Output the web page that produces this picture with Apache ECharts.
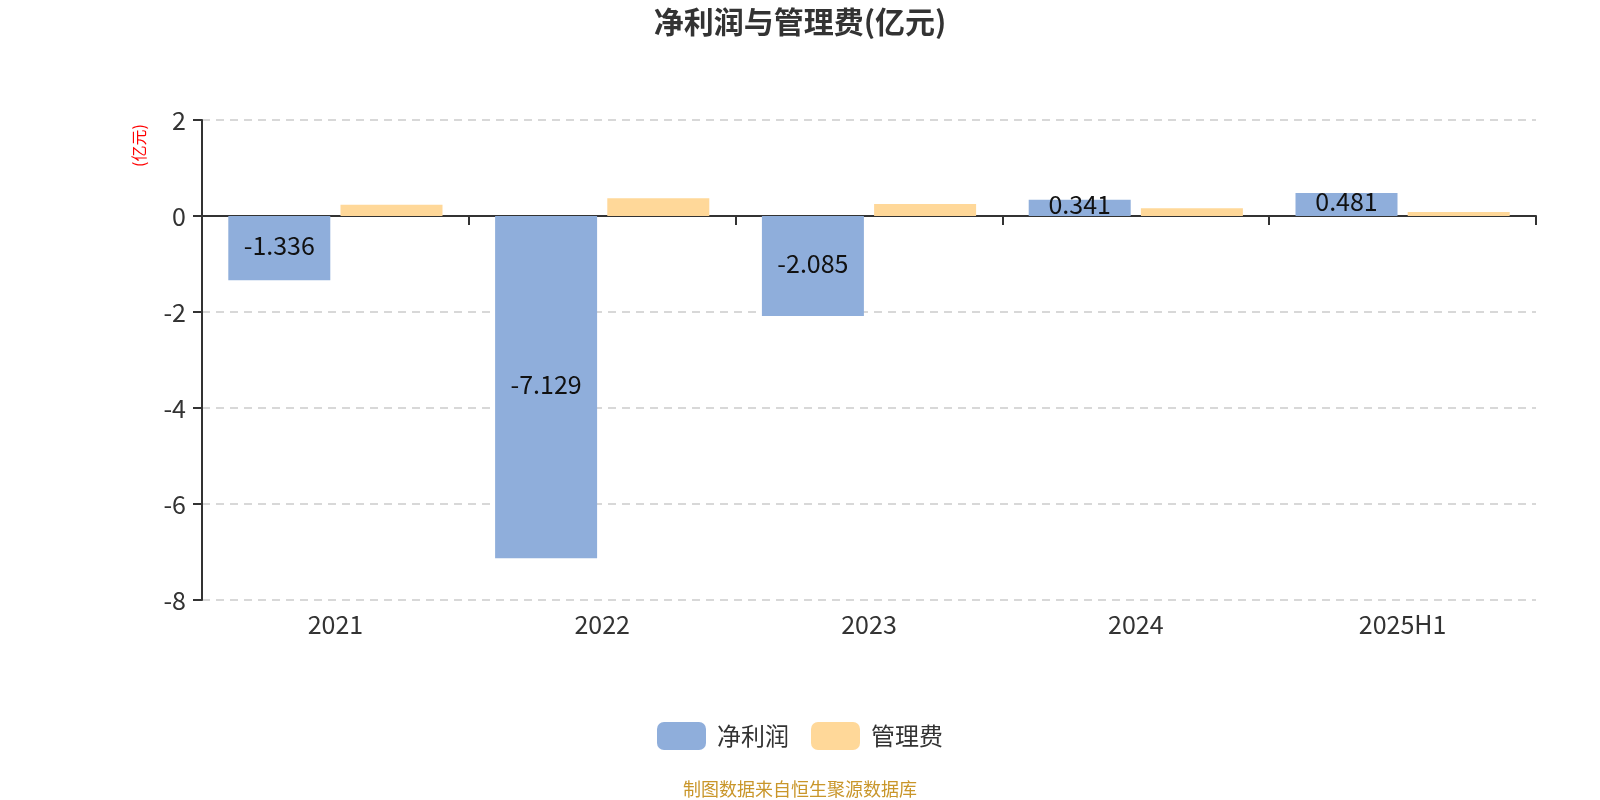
<!DOCTYPE html>
<html><head><meta charset="utf-8">
<script src="https://cdn.jsdelivr.net/npm/echarts@6/dist/echarts.min.js"></script>
<style>html,body{margin:0;padding:0;background:#fff}#c{width:1600px;height:800px}</style>
</head><body><div id="c"></div>
<script>
const categories = ['2021','2022','2023','2024','2025H1'];
const netProfit = [-1.336, -7.129, -2.085, 0.341, 0.481];
const mgmtFee = [0.236, 0.37, 0.25, 0.16, 0.083];
const yTicks = {min: -8, max: 2, interval: 2};
const FONT = '"Microsoft YaHei","Noto Sans CJK SC",sans-serif';

const chart = echarts.init(document.getElementById('c'));
chart.setOption({
  backgroundColor: '#fff',
  textStyle: {fontFamily: FONT},
  title: {
    text: '净利润与管理费(亿元)', left: 'center', top: 2,
    textStyle: {fontSize: 30, fontWeight: 'bold', color: '#333', fontFamily: FONT}
  },
  legend: {
    top: 717, left: 'center', itemWidth: 49, itemHeight: 28, itemGap: 22,
    icon: 'roundRect',
    textStyle: {fontSize: 24, color: '#333', fontFamily: FONT, padding: [0, 0, 0, 6]},
    data: ['净利润','管理费']
  },
  graphic: [
    {type: 'text', left: 'center', top: 780,
     style: {text: '制图数据来自恒生聚源数据库', fontSize: 18, fill: '#C9962A', fontFamily: FONT}},
    {type: 'text', x: 131, y: 167, rotation: Math.PI/2,
     style: {text: '(亿元)', fontSize: 16, fill: '#FF0000', fontFamily: FONT}}
  ],
  grid: {left: 202, right: 64, top: 120, bottom: 200, containLabel: false},
  xAxis: [
    {type: 'category', data: categories, position: 'bottom',
     axisLine: {show: false, onZero: false}, axisTick: {show: false},
     axisLabel: {fontSize: 25, color: '#333', margin: 12, fontFamily: FONT}},
    {type: 'category', data: categories, position: 'top',
     axisLine: {show: true, onZero: true, onZeroAxisIndex: 0, lineStyle: {color: '#333', width: 2}},
     axisTick: {show: true, inside: true, length: 9, lineStyle: {color: '#333', width: 2}},
     axisLabel: {show: false}}
  ],
  yAxis: {
    type: 'value', min: yTicks.min, max: yTicks.max, interval: yTicks.interval,
    axisLine: {show: true, lineStyle: {color: '#333', width: 2}},
    axisTick: {show: true, length: 9, lineStyle: {color: '#333', width: 2}},
    axisLabel: {fontSize: 25, color: '#333', margin: 16, fontFamily: FONT},
    splitLine: {show: true, lineStyle: {type: [8, 6], color: '#cccccc', width: 1.5}}
  },
  series: [
    {name: '净利润', type: 'bar', data: netProfit, xAxisIndex: 0,
     barWidth: 102, barGap: '10%',
     itemStyle: {color: '#8FAEDB'},
     label: {show: true, position: 'inside', offset: [0, -3], fontSize: 25, color: '#111', fontFamily: FONT}},
    {name: '管理费', type: 'bar', data: mgmtFee, xAxisIndex: 0,
     barWidth: 102, barGap: '10%',
     itemStyle: {color: '#FFD899'}}
  ]
});
</script></body></html>
